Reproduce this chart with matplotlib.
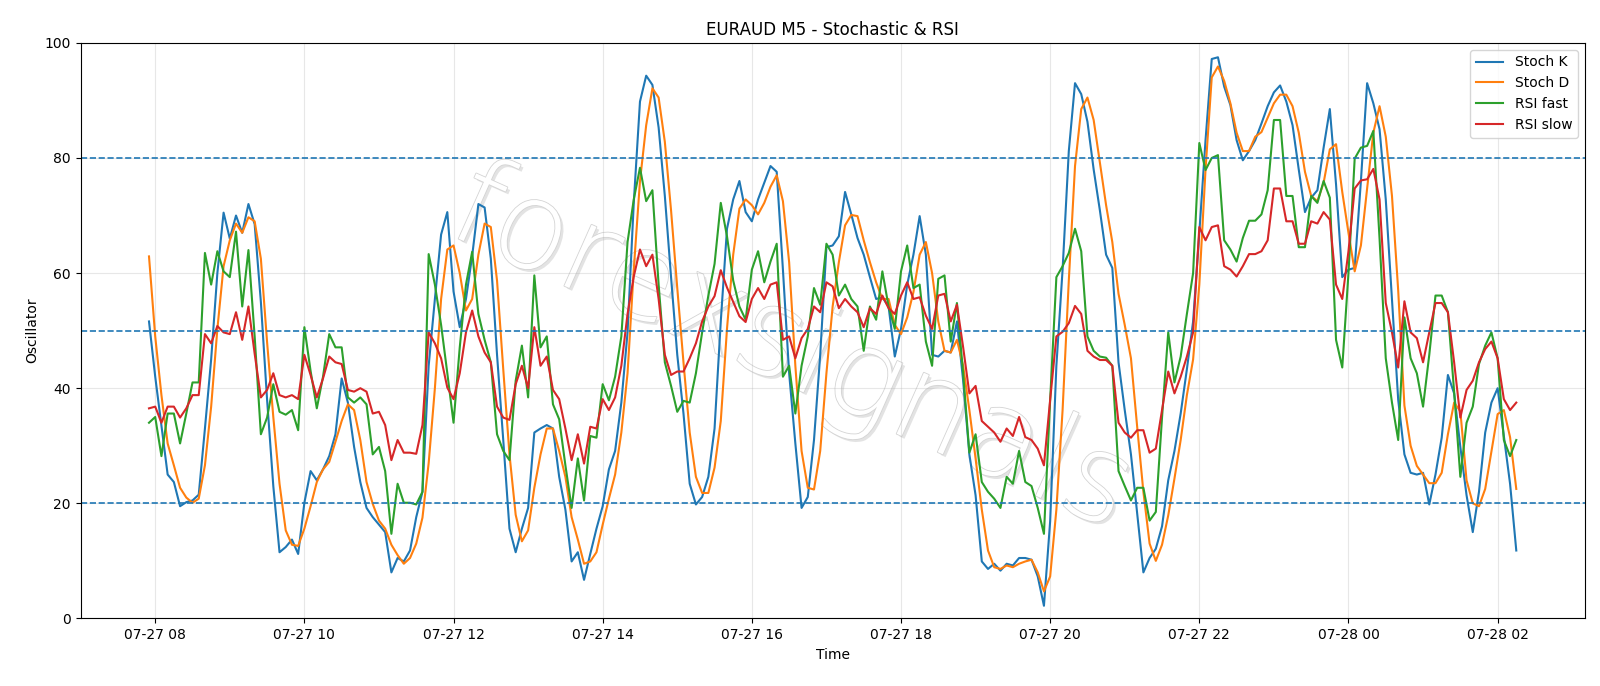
import numpy as np
import pandas as pd
import matplotlib
matplotlib.use("Agg")
import matplotlib.pyplot as plt
import matplotlib.dates as mdates
import matplotlib.patheffects as pe

# ─── Data (M5 bars) ──────────────────────────────────────────────────────────
times = pd.date_range("2024-07-27 07:55", periods=221, freq="5min")

stoch_k = [
    51.6, 42.0, 33.5, 25.0, 23.7, 19.5, 20.2, 20.5, 21.5, 33.0,
    45.0, 60.0, 70.5, 66.0, 70.0, 67.0, 72.0, 68.5, 55.0, 38.0,
    23.0, 11.5, 12.4, 13.7, 11.2, 20.1, 25.6, 24.0, 25.9, 28.2,
    32.0, 41.7, 37.5, 29.8, 23.7, 19.2, 17.6, 16.3, 15.0, 8.0,
    10.5, 9.9, 11.8, 17.6, 22.0, 43.9, 55.5, 66.7, 70.6, 56.8,
    50.6, 55.5, 63.0, 72.0, 71.4, 62.5, 45.8, 31.0, 15.6, 11.5,
    15.6, 19.2, 32.3, 33.0, 33.6, 33.0, 24.6, 18.9, 9.9, 11.5,
    6.7, 11.2, 15.6, 19.5, 25.9, 29.1, 37.5, 49.7, 72.2, 89.8,
    94.3, 92.7, 85.3, 73.4, 59.3, 45.8, 35.6, 23.4, 19.8, 21.1,
    24.6, 33.0, 51.6, 67.7, 72.8, 76.0, 70.6, 69.0, 72.8, 75.7,
    78.6, 77.6, 60.6, 42.6, 30.4, 19.2, 21.1, 31.0, 45.8, 64.5,
    64.8, 66.4, 74.1, 70.2, 66.1, 63.2, 59.3, 55.5, 55.8, 54.2,
    45.5, 50.3, 58.0, 63.2, 69.9, 63.2, 45.8, 45.5, 46.5, 46.2,
    51.6, 41.3, 28.5, 21.4, 9.9, 8.6, 9.5, 8.3, 9.5, 9.2,
    10.5, 10.5, 10.2, 7.3, 2.2, 16.9, 43.9, 60.6, 81.2, 93.0,
    91.1, 86.3, 78.0, 70.9, 63.2, 60.9, 44.5, 36.2, 28.5, 18.2,
    8.0, 10.5, 12.1, 16.0, 24.0, 29.1, 35.6, 43.3, 51.6, 67.0,
    83.1, 97.2, 97.5, 92.4, 89.2, 83.1, 79.6, 81.2, 83.1, 86.0,
    89.0, 91.4, 92.6, 89.8, 85.7, 78.0, 70.6, 73.1, 74.4, 81.8,
    88.5, 75.4, 59.3, 60.6, 60.9, 76.0, 93.0, 89.5, 85.0, 72.8,
    55.5, 38.0, 28.5, 25.3, 25.0, 25.3, 19.8, 25.0, 31.4, 42.3,
    39.1, 29.8, 21.4, 15.0, 22.0, 32.3, 37.5, 40.0, 31.7, 23.4,
    11.8,
]

stoch_d = [
    62.9, 49.0, 38.8, 30.4, 26.6, 22.7, 21.0, 20.1, 20.8, 26.6,
    36.8, 50.3, 61.2, 65.7, 68.6, 67.0, 69.7, 69.0, 62.5, 48.0,
    35.0, 23.4, 15.3, 12.8, 12.6, 15.6, 19.5, 23.7, 25.9, 27.2,
    30.7, 34.3, 37.2, 36.2, 31.0, 23.7, 19.9, 17.0, 15.6, 12.8,
    11.0, 9.5, 10.5, 13.0, 17.5, 27.0, 40.0, 55.5, 64.1, 64.8,
    60.0, 53.5, 55.5, 63.2, 68.6, 68.0, 58.7, 43.3, 28.5, 18.0,
    13.4, 15.3, 22.7, 28.5, 33.0, 33.0, 29.1, 24.6, 17.6, 13.7,
    9.5, 9.9, 11.5, 16.3, 20.8, 25.0, 32.3, 42.6, 60.6, 76.0,
    85.7, 92.1, 90.5, 82.8, 70.9, 57.4, 44.5, 32.3, 24.6, 21.8,
    21.8, 26.2, 34.3, 50.3, 63.2, 71.2, 72.8, 71.8, 70.2, 72.2,
    75.0, 77.0, 72.5, 61.9, 43.9, 29.1, 22.7, 22.4, 29.1, 42.6,
    54.2, 61.9, 68.3, 70.1, 69.9, 65.7, 61.9, 58.4, 55.5, 55.5,
    51.0, 49.4, 52.3, 56.7, 63.2, 65.4, 60.0, 51.6, 46.5, 46.2,
    48.4, 43.9, 36.2, 27.8, 18.9, 11.8, 8.9, 8.6, 9.2, 8.9,
    9.5, 9.9, 10.2, 8.0, 4.7, 7.3, 18.9, 36.2, 58.7, 78.6,
    88.5, 90.5, 86.6, 79.2, 71.8, 65.4, 56.4, 51.0, 45.2, 33.3,
    22.0, 13.0, 10.0, 12.8, 17.9, 24.3, 31.0, 38.8, 45.0, 58.0,
    78.0, 94.0, 95.9, 93.4, 89.5, 84.4, 81.2, 81.2, 83.7, 84.5,
    87.0, 89.5, 91.0, 91.0, 89.0, 84.4, 77.6, 73.4, 72.5, 75.7,
    81.5, 82.4, 74.1, 67.0, 60.3, 64.8, 74.7, 84.4, 89.0, 83.7,
    73.4, 57.0, 37.0, 30.0, 26.5, 25.0, 23.5, 23.5, 25.3, 32.0,
    37.5, 36.0, 24.0, 20.0, 19.5, 22.5, 29.0, 35.5, 36.2, 31.5,
    22.5,
]

rsi_fast = [
    34.0, 35.0, 28.2, 35.6, 35.6, 30.4, 35.6, 41.0, 41.0, 63.5,
    58.0, 63.8, 60.3, 59.3, 67.2, 54.2, 64.0, 49.0, 32.0, 34.9,
    40.7, 35.9, 35.4, 36.2, 32.7, 50.6, 43.0, 36.5, 42.0, 49.4,
    47.1, 47.1, 38.4, 37.5, 38.4, 37.2, 28.5, 29.8, 25.6, 14.7,
    23.4, 20.1, 20.1, 19.8, 22.0, 63.3, 58.0, 51.0, 42.6, 34.0,
    47.1, 58.0, 63.7, 52.9, 48.4, 44.5, 32.0, 29.1, 27.5, 41.3,
    47.4, 38.4, 59.6, 47.1, 49.0, 37.2, 34.6, 26.6, 19.2, 27.8,
    20.5, 31.7, 31.4, 40.7, 37.9, 42.0, 49.0, 65.4, 72.8, 78.3,
    72.5, 74.4, 58.0, 44.5, 40.4, 35.9, 37.8, 37.5, 42.6, 49.7,
    56.1, 61.6, 72.2, 66.4, 58.7, 54.2, 51.9, 60.6, 63.8, 58.4,
    62.0, 65.1, 42.0, 43.9, 35.6, 43.9, 49.0, 57.4, 54.5, 65.1,
    63.2, 56.1, 58.0, 55.5, 54.2, 46.5, 54.2, 51.9, 60.3, 54.2,
    50.3, 60.3, 64.8, 57.4, 58.0, 48.1, 43.9, 59.0, 59.6, 48.1,
    54.8, 42.6, 28.8, 32.0, 23.7, 22.0, 20.8, 19.2, 24.6, 23.4,
    29.1, 23.7, 23.0, 19.2, 14.7, 38.0, 59.3, 61.2, 63.5, 67.7,
    63.8, 49.0, 46.5, 45.5, 45.3, 43.9, 25.6, 23.0, 20.5, 22.7,
    22.7, 17.0, 18.5, 34.9, 49.7, 41.0, 45.5, 52.9, 60.0, 82.6,
    77.9, 80.0, 80.5, 65.7, 64.1, 62.0, 66.1, 69.1, 69.1, 70.2,
    74.4, 86.6, 86.6, 73.4, 73.4, 64.5, 64.5, 73.4, 72.2, 76.0,
    73.1, 48.4, 43.6, 60.0, 79.9, 81.8, 82.1, 84.7, 66.0, 45.2,
    37.5, 31.0, 52.3, 45.2, 42.6, 36.8, 45.8, 56.1, 56.1, 53.2,
    39.4, 24.6, 34.0, 36.8, 44.2, 47.4, 49.7, 45.2, 31.0, 28.2,
    31.0,
]

rsi_slow = [
    36.5, 36.8, 34.0, 36.8, 36.8, 34.9, 36.5, 38.8, 38.8, 49.4,
    47.8, 50.8, 49.7, 49.4, 53.2, 48.4, 54.2, 46.0, 38.4, 39.7,
    42.6, 38.8, 38.4, 38.8, 38.1, 45.8, 42.3, 38.4, 41.7, 45.5,
    44.5, 44.2, 39.7, 39.4, 40.0, 39.4, 35.6, 35.9, 33.6, 27.5,
    31.0, 28.8, 28.8, 28.6, 33.6, 49.7, 47.8, 45.2, 40.1, 38.1,
    42.6, 49.7, 53.5, 49.0, 46.2, 44.5, 36.8, 34.9, 34.5, 40.7,
    43.9, 40.0, 50.6, 43.9, 45.5, 39.7, 38.1, 33.0, 27.5, 32.0,
    26.9, 33.3, 33.0, 38.1, 36.2, 38.4, 43.9, 52.9, 59.4, 64.1,
    61.2, 63.2, 55.5, 45.8, 42.3, 42.9, 42.9, 45.2, 47.8, 51.6,
    54.2, 56.0, 60.5, 57.5, 55.0, 52.5, 51.5, 55.5, 57.4, 55.5,
    58.0, 58.4, 48.4, 49.0, 45.2, 48.7, 50.3, 54.2, 53.2, 58.4,
    57.7, 53.9, 55.5, 54.2, 53.2, 50.6, 53.9, 52.9, 56.1, 53.9,
    52.9, 56.1, 58.4, 55.5, 55.8, 52.6, 50.3, 56.1, 56.4, 51.6,
    54.5, 47.1, 39.1, 40.4, 34.3, 33.3, 32.3, 30.7, 33.0, 31.7,
    35.0, 31.5, 31.0, 29.5, 26.6, 38.0, 49.0, 49.8, 51.3, 54.3,
    52.9, 46.5, 45.5, 44.9, 44.9, 43.9, 34.0, 32.3, 31.4, 32.7,
    32.7, 28.8, 29.5, 36.2, 42.9, 39.1, 42.0, 45.5, 49.7, 68.0,
    65.7, 68.0, 68.3, 61.2, 60.6, 59.4, 61.2, 63.3, 63.3, 63.8,
    65.7, 74.7, 74.7, 69.0, 69.0, 65.1, 65.1, 69.0, 68.6, 70.6,
    69.3, 58.0, 55.5, 63.8, 74.7, 76.1, 76.3, 78.1, 72.8, 54.8,
    49.7, 43.6, 55.1, 49.7, 48.7, 44.5, 49.7, 54.8, 54.8, 53.2,
    44.5, 34.9, 39.7, 41.3, 44.5, 46.8, 48.1, 45.2, 38.1, 36.2,
    37.5,
]

levels = [20, 50, 80]

for name, s in [("K", stoch_k), ("D", stoch_d), ("fast", rsi_fast), ("slow", rsi_slow)]:
    assert len(s) == len(times), (name, len(s))

# ─── Plot ─────────────────────────────────────────────────────────────────────
fig, ax = plt.subplots(figsize=(16, 6.86), dpi=100)
fig.subplots_adjust(left=0.0504, right=0.9904, top=0.9375, bottom=0.0985)

# watermark (thin hollow grey letters with a faint shadow)
ax.text(0.473, 0.465, "forexsignals", transform=ax.transAxes, fontsize=88,
        rotation=-24, ha="center", va="center", fontweight="light",
        color="white", zorder=0.5,
        path_effects=[pe.SimplePatchShadow(offset=(2, -2), shadow_rgbFace="#b0b0b0", alpha=0.35),
                      pe.withStroke(linewidth=1.2, foreground="#d4d4d4")])

ax.plot(times, stoch_k, label="Stoch K")
ax.plot(times, stoch_d, label="Stoch D")
ax.plot(times, rsi_fast, label="RSI fast")
ax.plot(times, rsi_slow, label="RSI slow")

for lv in levels:
    ax.axhline(lv, linestyle="--", linewidth=1.2, color="tab:blue")

ax.set_ylim(0, 100)
ax.xaxis.set_major_locator(mdates.HourLocator(byhour=range(0, 24, 2)))
ax.xaxis.set_major_formatter(mdates.DateFormatter("%m-%d %H"))
ax.grid(True, alpha=0.3)
ax.set_title("EURAUD M5 - Stochastic & RSI")
ax.set_xlabel("Time")
ax.set_ylabel("Oscillator")
ax.legend(loc="upper right")

fig.savefig("out.png", dpi=100)
